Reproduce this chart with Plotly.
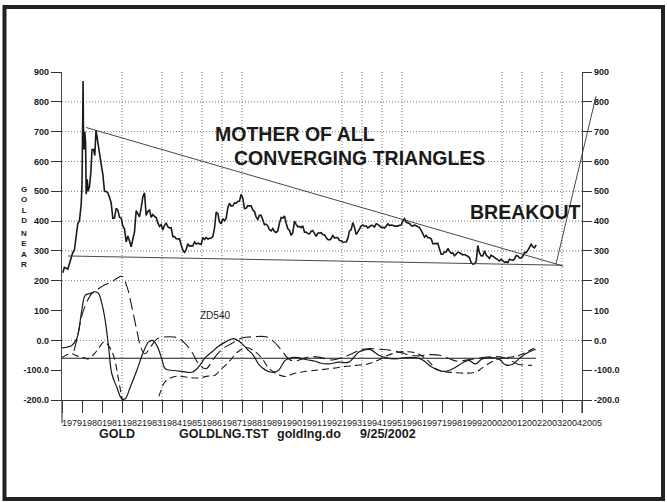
import plotly.graph_objects as go

# gold, 1979-1980 (fast part)
gold_early_t = [1979.04, 1979.12, 1979.21, 1979.29, 1979.37, 1979.46, 1979.54, 1979.62, 1979.71,
                1979.79, 1979.87, 1979.92, 1979.96, 1980.0, 1980.03, 1980.055, 1980.07, 1980.1,
                1980.14, 1980.18, 1980.21, 1980.26, 1980.3, 1980.37, 1980.44, 1980.5, 1980.58,
                1980.64, 1980.7, 1980.75, 1980.8, 1980.87, 1980.96]
gold_early_v = [227, 245, 242, 239, 257, 279, 295, 302, 355,
                392, 400, 430, 456, 520, 650, 870, 720, 640,
                700, 660, 490, 540, 500, 515, 560, 640, 640,
                620, 705, 680, 660, 620, 590]

# gold, monthly from Jan 1981 to Sep 2002
gold_monthly = [
    557, 500, 499, 495, 480, 461, 409, 410, 443, 437, 413, 410,
    384, 374, 330, 350, 333, 314, 339, 364, 435, 423, 414, 444,
    481, 495, 419, 432, 438, 413, 422, 416, 412, 394, 382, 388,
    370, 386, 394, 381, 377, 378, 348, 348, 341, 340, 341, 320,
    303, 295, 304, 324, 316, 317, 317, 330, 323, 326, 325, 322,
    345, 338, 345, 340, 342, 343, 348, 376, 430, 425, 398, 391,
    408, 401, 409, 445, 460, 450, 451, 461, 460, 466, 467, 490,
    477, 442, 443, 452, 451, 451, 437, 432, 413, 406, 420, 419,
    404, 388, 390, 384, 371, 367, 375, 365, 362, 367, 394, 412,
    410, 417, 393, 374, 369, 352, 362, 400, 389, 381, 382, 378,
    384, 363, 363, 358, 357, 366, 368, 356, 349, 359, 360, 361,
    354, 354, 345, 338, 337, 341, 353, 343, 345, 344, 335, 334,
    329, 330, 330, 342, 367, 371, 395, 379, 355, 364, 373, 383,
    387, 382, 384, 377, 381, 386, 385, 380, 391, 389, 384, 379,
    379, 377, 383, 391, 385, 387, 386, 383, 383, 383, 386, 387,
    400, 408, 396, 393, 392, 385, 383, 387, 383, 381, 378, 369,
    355, 346, 352, 344, 344, 341, 324, 324, 323, 325, 306, 289,
    289, 297, 296, 308, 299, 292, 293, 284, 289, 296, 294, 291,
    287, 288, 286, 282, 277, 261, 256, 257, 265, 318, 293, 283,
    284, 300, 286, 280, 275, 286, 282, 275, 273, 270, 266, 272,
    266, 262, 263, 261, 272, 270, 268, 273, 285, 283, 276, 276,
    282, 295, 294, 302, 314, 322, 314, 310, 320,
]

# triangle lines (start, end)
upper_t = [1980.2, 2004.07]
upper_v = [714, 249]
lower_t = [1979.3, 2004.0]
lower_v = [283, 252]
breakout_t = [2003.7, 2005.7]
breakout_v = [256, 819]

# ZD540 oscillator, solid line
osc_t = [1979.0, 1979.49, 1979.74, 1979.99, 1980.16, 1980.41, 1980.66, 1980.83, 1980.99, 1981.16,
         1981.33, 1981.49, 1981.74, 1981.99, 1982.16, 1982.41, 1982.74, 1983.07, 1983.32, 1983.52,
         1983.74, 1983.99, 1984.16, 1984.57, 1984.99, 1985.49, 1985.82, 1986.16, 1986.49, 1986.82,
         1987.16, 1987.57, 1987.91, 1988.24, 1988.57, 1988.82, 1989.16, 1989.49, 1989.82, 1990.16,
         1990.49, 1990.82, 1991.24, 1991.66, 1991.91, 1992.34, 1992.84, 1993.34, 1993.84, 1994.18,
         1994.43, 1994.84, 1995.18, 1995.68, 1996.18, 1996.68, 1997.01, 1997.51, 1998.01, 1998.34,
         1998.68, 1999.01, 1999.34, 1999.68, 2000.01, 2000.51, 2000.84, 2001.18, 2001.51, 2001.84,
         2002.18, 2002.51, 2002.68]
osc_v = [-25, -17, 6, 101, 151, 157, 163, 157, 124, 67,
         -22, -112, -157, -196, -196, -157, -101, -39, -6, 0,
         -17, -62, -95, -101, -104, -107, -90, -58, -39, -20,
         -6, 6, -6, -28, -50, -79, -99, -107, -101, -67,
         -58, -58, -65, -70, -76, -79, -73, -73, -39, -31,
         -31, -50, -58, -62, -58, -58, -65, -90, -104, -101,
         -90, -76, -67, -79, -62, -58, -62, -82, -81, -62,
         -45, -34, -30]

# long dashed line
lead_t = [1979.6, 1979.8, 1980.0, 1980.25, 1980.5, 1980.8, 1981.1, 1981.45, 1981.75, 1982.0,
          1982.25, 1982.5, 1982.75, 1982.95, 1983.15, 1983.45, 1983.75, 1984.0, 1984.4, 1984.8,
          1985.15, 1985.5, 1985.85, 1986.2, 1986.6, 1987.0, 1987.5, 1988.0, 1988.6, 1989.2,
          1989.6, 1990.0, 1990.3, 1990.6, 1991.0, 1991.4, 1991.9, 1992.5, 1993.0, 1993.5,
          1993.85, 1994.3, 1994.9, 1995.4, 1996.0, 1996.3, 1996.8, 1997.3, 1997.9, 1998.3,
          1998.8, 1999.3, 1999.8, 2000.3, 2000.9, 2001.3, 2001.8, 2002.2, 2002.5]
lead_v = [-35, 20, 85, 130, 158, 172, 185, 195, 208, 215,
          180, 110, 30, -25, -45, -20, 5, 10, 12, 8,
          -10, -40, -80, -95, -60, -30, -10, 8, 12, 12,
          -5, -35, -60, -70, -62, -55, -57, -66, -58, -45,
          -34, -28, -30, -33, -42, -48, -52, -48, -50, -60,
          -70, -65, -60, -56, -55, -62, -80, -83, -84]

# short dashed line
lag_t = [1979.0, 1979.25, 1979.5, 1979.75, 1980.0, 1980.3, 1980.55, 1980.8, 1981.1, 1981.3,
         1981.6, 1981.85, 1982.1, 1982.4, 1982.9, 1983.3, 1983.65, 1983.9, 1984.1, 1984.35,
         1984.8, 1985.3, 1985.8, 1986.3, 1986.65, 1986.9, 1987.2, 1987.5, 1987.8, 1988.2,
         1988.6, 1989.0, 1989.3, 1989.7, 1990.2, 1990.6, 1991.0, 1991.6, 1992.0, 1992.6,
         1993.1, 1993.7, 1994.3, 1994.8, 1995.3, 1995.8, 1996.3, 1996.8, 1997.3, 1997.7,
         1998.1, 1998.6, 1999.2, 1999.7, 2000.0, 2000.4, 2000.8, 2001.3, 2001.8, 2002.2,
         2002.5, 2002.65]
lag_v = [-58, -48, -45, -52, -56, -62, -50, -30, -5, -15,
         -56, -140, -215, -240, -225, -210, -215, -177, -144, -128,
         -120, -124, -126, -120, -117, -100, -82, -60, -38, -24,
         -35, -60, -90, -111, -121, -111, -106, -101, -98, -93,
         -88, -84, -79, -67, -50, -40, -38, -45, -68, -95,
         -105, -108, -110, -106, -93, -75, -62, -57, -52, -40,
         -30, -25]

level_t = [1979.0, 2002.7]
level_v = [-60, -60]

years = list(range(1979, 2006))
grid_years = [1982, 1984, 1985, 1986, 1987, 1988, 1993, 1994, 1995, 1996, 2001, 2002, 2003, 2004]
grid_levels = [0, 200, 300, 400, 500, 600, 700, 800]
y_ticks = list(range(-200, 1000, 100))
y_text = ['-200.0', '-100.0', '0.0'] + [str(v) for v in range(100, 1000, 100)]

X0, X1 = 1979, 2005
Y0, Y1 = -200, 900


def to_paper(t, v):
    return (t - X0) / (X1 - X0), (v - Y0) / (Y1 - Y0)


FONT = "Liberation Sans, Arial, sans-serif"
INK = "#1a1a1a"

gold_t = gold_early_t + [1981 + (i + 0.5) / 12 for i in range(len(gold_monthly))]
gold_v = gold_early_v + gold_monthly

fig = go.Figure()
fig.add_trace(go.Scatter(x=gold_t, y=gold_v, mode="lines", line=dict(color=INK, width=1.6)))
fig.add_trace(go.Scatter(x=upper_t, y=upper_v, mode="lines", line=dict(color="#333", width=0.9)))
fig.add_trace(go.Scatter(x=lower_t, y=lower_v, mode="lines", line=dict(color="#333", width=0.9)))
fig.add_trace(go.Scatter(x=osc_t, y=osc_v, mode="lines", line=dict(color=INK, width=1.2, shape="spline")))
fig.add_trace(go.Scatter(x=lead_t, y=lead_v, mode="lines",
                         line=dict(color=INK, width=1.1, dash="12px,5px", shape="spline")))
fig.add_trace(go.Scatter(x=lag_t, y=lag_v, mode="lines",
                         line=dict(color=INK, width=1.1, dash="7px,4px", shape="spline")))
fig.add_trace(go.Scatter(x=level_t, y=level_v, mode="lines", yaxis="y2",
                         line=dict(color=INK, width=1.2)))

shapes = []
# page frame
shapes.append(dict(type="rect", xref="paper", yref="paper", x0=-0.1106, x1=1.1558, y0=-0.3018, y1=1.198,
                   line=dict(color="#222", width=4)))
# axis lines running past the bottom
shapes.append(dict(type="line", xref="paper", yref="paper", x0=0, x1=0, y0=-0.07, y1=0,
                   line=dict(color="#444", width=1.2)))
shapes.append(dict(type="line", xref="paper", yref="paper", x0=1, x1=1, y0=-0.04, y1=0,
                   line=dict(color="#444", width=1.2)))
for v in grid_levels:
    shapes.append(dict(type="line", xref="paper", yref="y", x0=0, x1=1, y0=v, y1=v, layer="below",
                       line=dict(color="#777", width=1, dash="1px,2px")))
for t in grid_years:
    shapes.append(dict(type="line", xref="x", yref="paper", x0=t, x1=t, y0=0, y1=1, layer="below",
                       line=dict(color="#777", width=1, dash="1px,2px")))
bx0, by0 = to_paper(breakout_t[0], breakout_v[0])
bx1, by1 = to_paper(breakout_t[1], breakout_v[1])
shapes.append(dict(type="line", xref="paper", yref="paper", x0=bx0, y0=by0, x1=bx1, y1=by1,
                   line=dict(color="#333", width=0.9)))

ann = []
big = dict(family=FONT, size=19.5, color=INK, weight="bold")
ann.append(dict(x=1986.55, y=692, xref="x", yref="y", text="MOTHER OF ALL", showarrow=False,
                xanchor="left", font=big))
ann.append(dict(x=1987.5, y=613, xref="x", yref="y", text="CONVERGING TRIANGLES", showarrow=False,
                xanchor="left", font=big))
ann.append(dict(x=1999.3, y=430, xref="x", yref="y", text="BREAKOUT", showarrow=False,
                xanchor="left", font=big))
ann.append(dict(x=1985.78, y=83, xref="x", yref="y", text="ZD540", showarrow=False,
                xanchor="left", font=dict(family=FONT, size=10, color=INK)))

foot = dict(family=FONT, size=12.5, color=INK, weight="bold")
for x, s in [(0.0673, "GOLD"), (0.2212, "GOLDLNG.TST"), (0.4096, "goldlng.do"), (0.5692, "9/25/2002")]:
    ann.append(dict(x=x, y=-0.1037, xref="paper", yref="paper", text=s, showarrow=False,
                    xanchor="left", yanchor="middle", font=foot))

for yr in years:
    px, _ = to_paper(yr + 0.5, 0)
    ann.append(dict(x=px, y=-0.07, xref="paper", yref="paper", text=str(yr), showarrow=False,
                    xanchor="center", yanchor="middle",
                    font=dict(family=FONT, size=9, color=INK)))

# vertical axis title, one letter per line, two words
for word, top_px in [("G<br>O<br>L<br>D", 184), ("N<br>E<br>A<br>R", 228)]:
    ann.append(dict(x=-0.074, y=(400 - top_px) / 328, xref="paper", yref="paper",
                    text=word, showarrow=False, xanchor="center", yanchor="top", borderpad=0,
                    font=dict(family=FONT, size=8, color=INK, weight="bold")))

tickfont = dict(family=FONT, size=9, color=INK, weight="bold")
fig.update_layout(
    width=667, height=502,
    margin=dict(l=62, r=85, t=72, b=102),
    paper_bgcolor="white", plot_bgcolor="white",
    showlegend=False,
    xaxis=dict(range=[X0, X1], tickvals=years, showticklabels=False, ticks="outside", ticklen=12,
               tickcolor="#333", showline=True, linecolor="#333", linewidth=1.2,
               showgrid=False, zeroline=False),
    yaxis=dict(range=[Y0, Y1], tickvals=y_ticks, ticktext=y_text, ticks="outside", ticklen=10,
               tickcolor="#333", showline=True, linecolor="#444", linewidth=1.2,
               showgrid=False, zeroline=False, tickfont=tickfont),
    yaxis2=dict(range=[Y0, Y1], overlaying="y", side="right", tickvals=y_ticks, ticktext=y_text,
                ticks="outside", ticklen=9, tickcolor="#333", showline=True, linecolor="#444",
                linewidth=1.2, showgrid=False, zeroline=False, tickfont=tickfont),
    shapes=shapes,
    annotations=ann,
)

# the page's default body margin would shift the figure by 8px
fig.write_html("out.html", config={"displayModeBar": False},
               post_script="document.body.style.margin='0';")
